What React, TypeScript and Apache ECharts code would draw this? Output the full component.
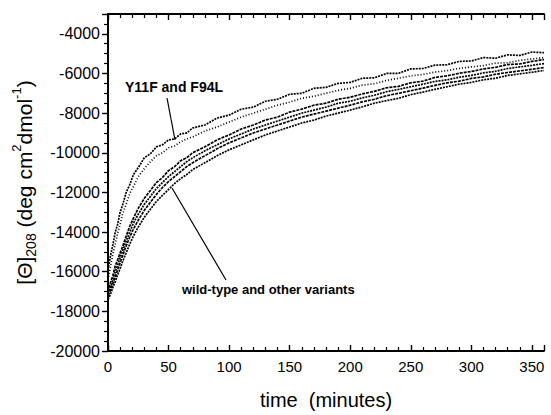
import React, { useEffect, useRef } from "react";
import * as echarts from "echarts";

const TIME = [0, 2, 4, 6, 8, 10, 12, 15, 18, 21, 25, 30, 35, 40, 45, 50, 55, 60, 65, 70, 80, 90, 100, 110, 120, 130, 140, 150, 160, 170, 180, 190, 200, 210, 220, 230, 240, 250, 260, 270, 280, 290, 300, 310, 320, 330, 340, 350, 360];

const Y11F = [-15900, -15200, -14650, -14000, -13600, -13000, -12650, -12000, -11600, -11100, -10750, -10250, -10050, -9700, -9600, -9350, -9300, -9050, -9000, -8750, -8600, -8250, -8100, -7800, -7700, -7400, -7300, -7050, -7000, -6750, -6700, -6500, -6450, -6240, -6220, -6000, -5990, -5770, -5750, -5580, -5560, -5390, -5370, -5200, -5230, -5060, -5090, -4920, -4950];
const F94L = [-16400, -15750, -15100, -14600, -14050, -13600, -13100, -12600, -12050, -11700, -11200, -10800, -10450, -10150, -10000, -9750, -9650, -9450, -9300, -9200, -8900, -8700, -8450, -8200, -8000, -7800, -7600, -7450, -7250, -7150, -7000, -6850, -6750, -6590, -6520, -6350, -6240, -6120, -6050, -5930, -5860, -5740, -5670, -5600, -5480, -5460, -5340, -5270, -5200];
const WT1 = [-17000, -16550, -16200, -15700, -15400, -15050, -14750, -14200, -13700, -13300, -12800, -12300, -11900, -11500, -11250, -10900, -10700, -10400, -10250, -10000, -9700, -9350, -9100, -8800, -8600, -8350, -8200, -7950, -7800, -7600, -7500, -7300, -7200, -7030, -6900, -6720, -6650, -6470, -6390, -6200, -6120, -5990, -5900, -5770, -5690, -5550, -5520, -5390, -5300];
const WT2 = [-17100, -16800, -16400, -16000, -15650, -15300, -14950, -14450, -14000, -13550, -13100, -12600, -12200, -11800, -11500, -11200, -10950, -10700, -10450, -10250, -9900, -9600, -9300, -9050, -8800, -8600, -8400, -8200, -8000, -7850, -7700, -7500, -7400, -7230, -7100, -6920, -6800, -6670, -6540, -6400, -6320, -6190, -6100, -5970, -5890, -5750, -5670, -5590, -5500];
const WT3 = [-17200, -16950, -16600, -16250, -15900, -15550, -15200, -14700, -14250, -13850, -13400, -12900, -12500, -12100, -11750, -11450, -11200, -10950, -10700, -10500, -10150, -9800, -9500, -9250, -9000, -8800, -8600, -8400, -8200, -8050, -7900, -7750, -7600, -7430, -7300, -7120, -7000, -6870, -6740, -6600, -6470, -6390, -6250, -6170, -6040, -5950, -5870, -5790, -5700];
const WT4 = [-17400, -17150, -16800, -16500, -16150, -15850, -15500, -15050, -14600, -14200, -13750, -13250, -12850, -12450, -12150, -11850, -11550, -11300, -11100, -10850, -10500, -10150, -9850, -9600, -9350, -9100, -8900, -8700, -8500, -8350, -8150, -8000, -7850, -7680, -7500, -7370, -7250, -7070, -6940, -6800, -6670, -6540, -6450, -6320, -6240, -6100, -6020, -5940, -5850];

const CURVES = [
  { name: "Y11F", values: Y11F, dash: [2, 1] },
  { name: "F94L", values: F94L, dash: [1, 2] },
  { name: "WT1", values: WT1, dash: [3, 1] },
  { name: "WT2", values: WT2, dash: [2, 1] },
  { name: "WT3", values: WT3, dash: [3, 1] },
  { name: "WT4", values: WT4, dash: [2, 1] },
];

const FONT = "'Liberation Sans', Arial, Helvetica, sans-serif";

export default function App() {
  const ref = useRef<HTMLDivElement>(null);
  useEffect(() => {
    if (!ref.current) return;
    const chart = echarts.init(ref.current, null, { renderer: "svg" });
    const axisLine = { show: true, lineStyle: { color: "#000", width: 1.8 } };
    const plain = (v: number) => String(v);
    const majorTick = { show: true, inside: true, length: 6, lineStyle: { color: "#000", width: 1.4 } };
    chart.setOption({
      animation: false,
      backgroundColor: "#fff",
      grid: { left: 108, top: 14, right: 7, bottom: 60 },
      xAxis: [
        {
          type: "value",
          position: "bottom",
          min: 0,
          max: 360,
          interval: 50,
          axisLine,
          axisTick: majorTick,
          minorTick: { show: true, splitNumber: 5, length: 4, lineStyle: { color: "#000", width: 1.2 } },
          splitLine: { show: false },
          axisLabel: { showMaxLabel: false, color: "#000", fontSize: 15, fontFamily: FONT, margin: 8, formatter: plain },
          name: "time  (minutes)",
          nameLocation: "middle",
          nameGap: 39,
          nameTextStyle: { color: "#000", fontSize: 20, fontFamily: FONT },
        },
        {
          type: "value",
          position: "top",
          min: 0,
          max: 360,
          interval: 50,
          axisLine,
          axisTick: majorTick,
          minorTick: { show: true, splitNumber: 5, length: 4, lineStyle: { color: "#000", width: 1.2 } },
          splitLine: { show: false },
          axisLabel: { show: false },
        },
      ],
      yAxis: [
        {
          type: "value",
          position: "left",
          min: -20000,
          max: -3000,
          interval: 2000,
          axisLine,
          axisTick: { show: true, inside: false, length: 6, lineStyle: { color: "#000", width: 1.4 } },
          minorTick: { show: true, splitNumber: 4, length: 4, lineStyle: { color: "#000", width: 1.2 } },
          splitLine: { show: false },
          axisLabel: { showMaxLabel: false, color: "#000", fontSize: 16, fontFamily: FONT, margin: 8, formatter: plain },
          name: "{a|[\u0398]}{sub|208}{a| (deg cm}{sup|2}{a|dmol}{sup|-1}{a|)}",
          nameLocation: "middle",
          nameGap: 70,
          nameRotate: 90,
          nameTextStyle: {
            color: "#000",
            fontFamily: FONT,
            rich: {
              a: { fontSize: 21, fontFamily: FONT, color: "#000", lineHeight: 28, verticalAlign: "middle" },
              sub: { fontSize: 14, fontFamily: FONT, color: "#000", lineHeight: 28, verticalAlign: "bottom", padding: [11, 0, 0, 0] },
              sup: { fontSize: 13, fontFamily: FONT, color: "#000", lineHeight: 28, verticalAlign: "top", padding: [0, 0, 11, 0] },
            },
          },
        },
        {
          type: "value",
          position: "right",
          min: -20000,
          max: -3000,
          axisLine,
          axisTick: { show: false },
          splitLine: { show: false },
          axisLabel: { show: false },
        },
      ],
      series: CURVES.map((c) => ({
        name: c.name,
        type: "line",
        xAxisIndex: 0,
        yAxisIndex: 0,
        showSymbol: false,
        smooth: false,
        lineStyle: { color: "#000", width: 1.7, type: c.dash },
        data: TIME.map((t, i) => [t, c.values[i]]),
      })),
      graphic: [
        {
          type: "text",
          left: 125,
          top: 80,
          style: { text: "Y11F and F94L", fontSize: 14, fontWeight: "bold", fontFamily: FONT, fill: "#000" },
        },
        {
          type: "line",
          shape: { x1: 167, y1: 98, x2: 175, y2: 140 },
          style: { stroke: "#000", lineWidth: 1.2 },
        },
        {
          type: "text",
          left: 182,
          top: 283,
          style: { text: "wild-type and other variants", fontSize: 13, fontWeight: "bold", fontFamily: FONT, fill: "#000" },
        },
        {
          type: "line",
          shape: { x1: 226, y1: 280, x2: 172, y2: 188 },
          style: { stroke: "#000", lineWidth: 1.2 },
        },
      ],
    });
    return () => chart.dispose();
  }, []);
  return (
    <div
      ref={ref}
      style={{ position: "fixed", left: 0, top: 0, width: 551, height: 415, background: "#fff" }}
    />
  );
}
